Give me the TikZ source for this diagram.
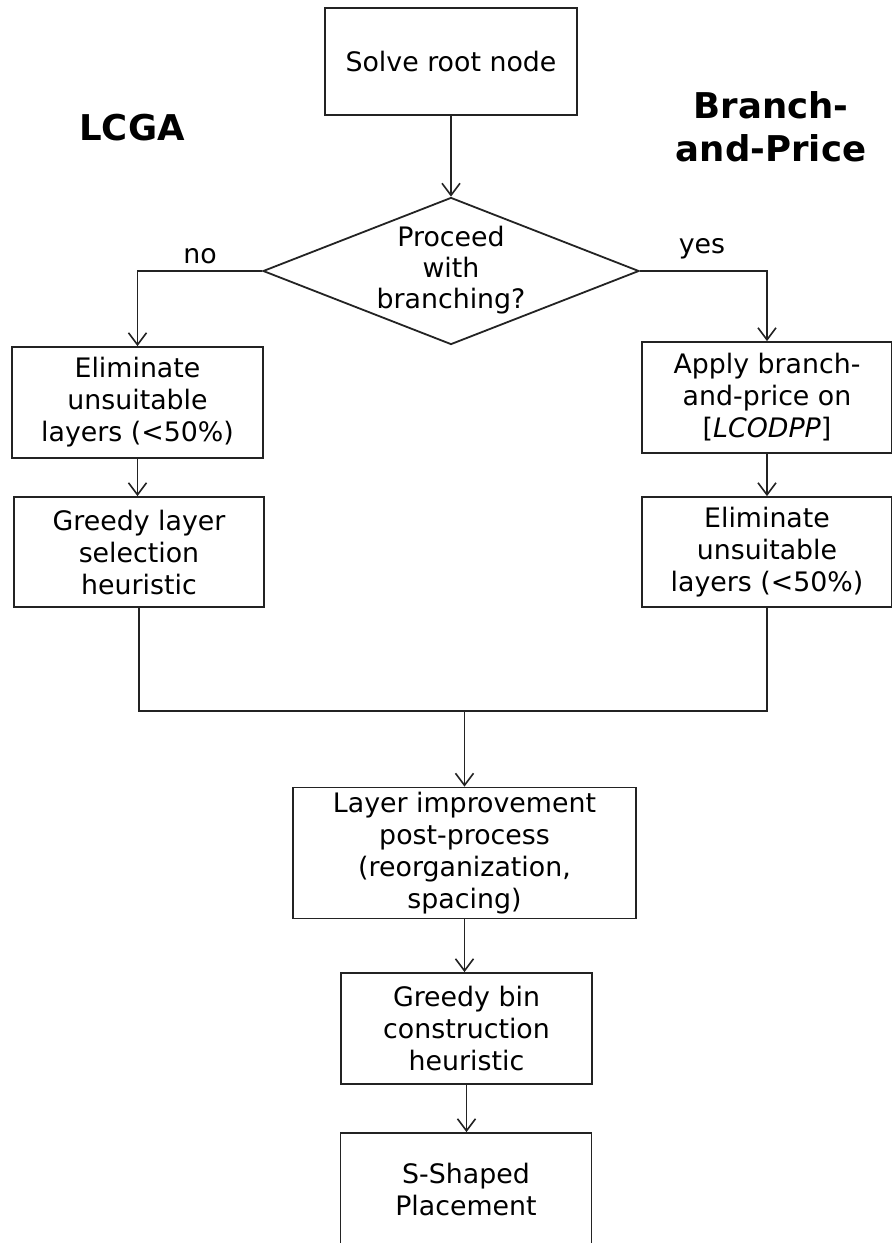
\documentclass[tikz,border=0pt]{standalone}
\usepackage{fontspec}
\setmainfont{DejaVu Sans}
\usetikzlibrary{arrows.meta,shapes.geometric}
\definecolor{ln}{RGB}{35,35,35}
\tikzset{
  box/.style={draw=ln, line width=1.8pt, rectangle, align=center, inner sep=0pt,
    font=\fontsize{26.8}{32}\selectfont},
  txt/.style={align=center, inner sep=0pt, font=\fontsize{26.8}{31}\selectfont},
  big/.style={align=center, inner sep=0pt, font=\fontsize{35.5}{43}\selectfont\bfseries},
  arr/.style={draw=ln, line width=1.6pt, -{Straight Barb[length=12pt,width=18pt,line width=1.6pt]}},
  ln/.style={draw=ln, line width=1.6pt},
}
\begin{document}
\begin{tikzpicture}[x=1pt,y=-1pt]
\useasboundingbox[fill=white] (0,0) rectangle (892,1243);
\node[box, minimum width=252, minimum height=107] (root) at (451,61.5) {Solve root node};
\node[draw=ln, line width=1.8pt, diamond, minimum width=376, minimum height=147, inner sep=0pt] (dia) at (451,271) {};
\node[txt] (diat) at (451,270.5) {Proceed\\with\\branching?};
\node[big] (lcga) at (132,128) {LCGA};
\node[big] (bp) at (771,126.5) {Branch-\\and-Price};
\node[txt] (no) at (200,256) {no};
\node[txt] (yes) at (702,249) {yes};
\node[box, minimum width=251, minimum height=111] (l1) at (137.5,402.5) {Eliminate\\unsuitable\\layers (<50\%)};
\node[box, minimum width=250, minimum height=110] (l2) at (139,552) {Greedy layer\\selection\\heuristic};
\node[box, minimum width=250, minimum height=111] (r1) at (767,397.5) {Apply branch-\\and-price on\\{[}\textit{LCODPP}{]}};
\node[box, minimum width=250, minimum height=110] (r2) at (767,552) {Eliminate\\unsuitable\\layers (<50\%)};
\node[box, minimum width=343, minimum height=131] (lay) at (464.5,853) {Layer improvement\\post-process\\(reorganization,\\spacing)};
\node[box, minimum width=251, minimum height=111] (bin) at (466.5,1028.5) {Greedy bin\\construction\\heuristic};
\node[box, minimum width=251, minimum height=112] (ss) at (466,1189) {S-Shaped\\Placement};
\coordinate (m) at (464.5,711);
\draw[arr] (root.south) -- (dia.north);
\draw[arr] (dia.west) -| (l1.north);
\draw[arr] (dia.east) -| (r1.north);
\draw[arr] (l1.south) -- (l1.south |- l2.north);
\draw[arr] (r1.south) -- (r2.north);
\draw[ln] (l2.south) -- (l2.south |- m) -- (r2.south |- m) -- (r2.south);
\draw[arr] (m) -- (lay.north);
\draw[arr] (lay.south) -- (lay.south |- bin.north);
\draw[arr] (bin.south) -- (bin.south |- ss.north);
\end{tikzpicture}
\end{document}
